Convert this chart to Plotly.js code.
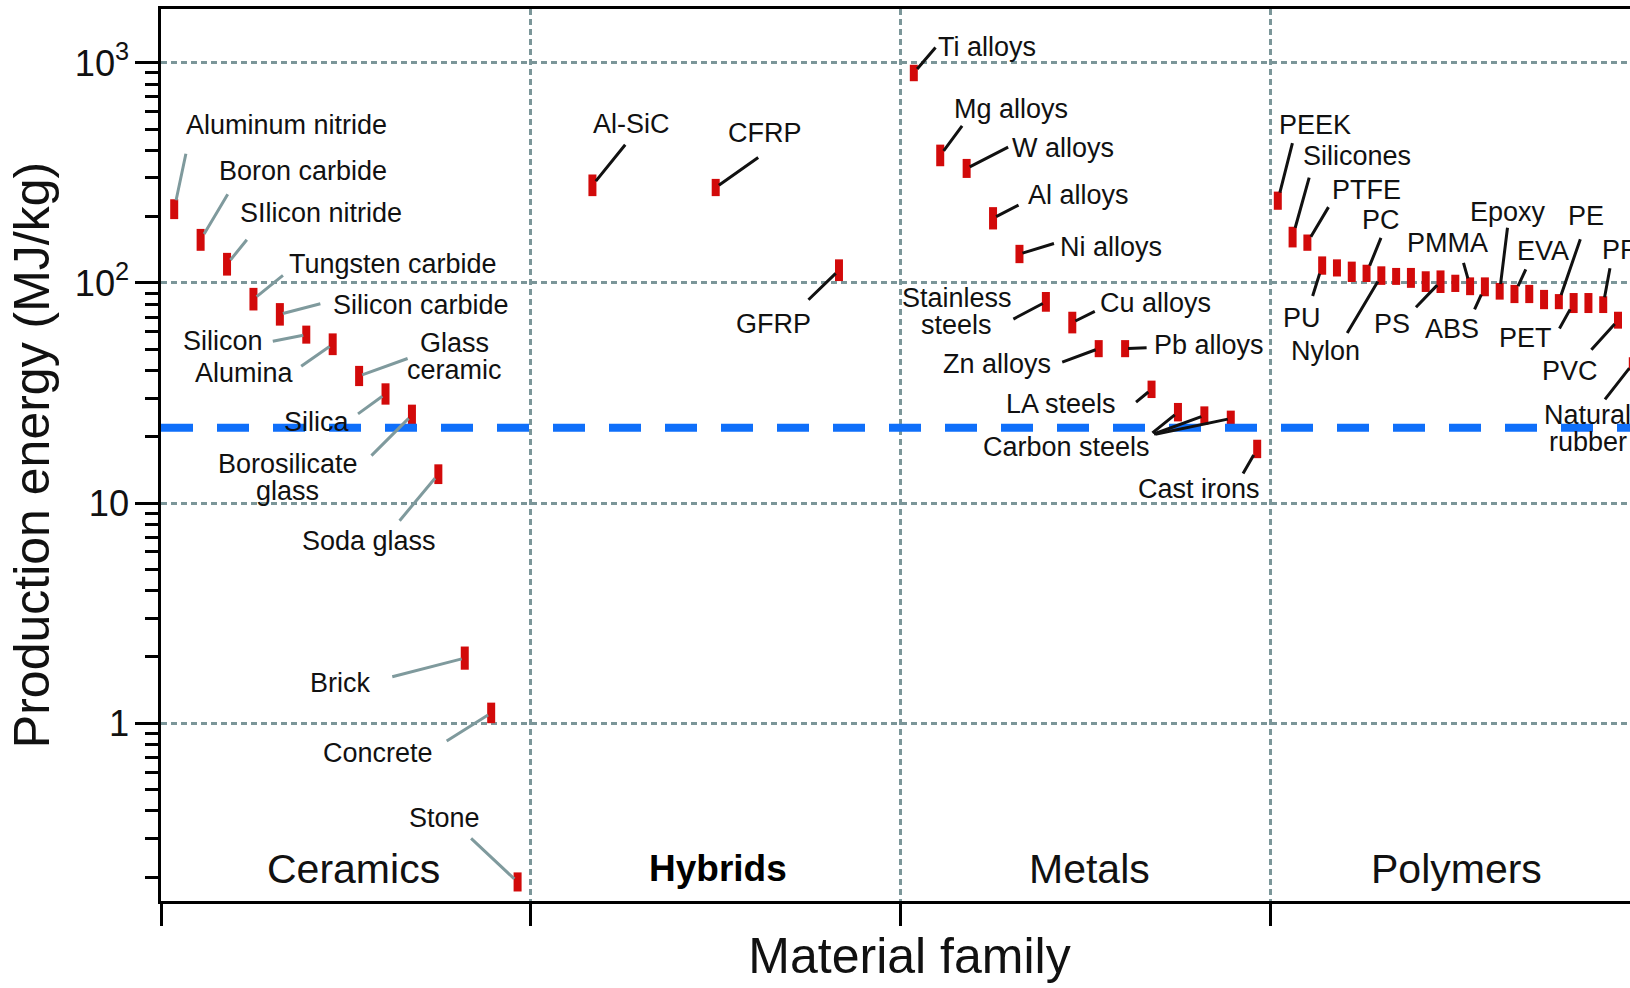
<!DOCTYPE html>
<html><head><meta charset="utf-8">
<script src="https://cdn.plot.ly/plotly-3.0.1.min.js"></script>
<style>html,body{margin:0;padding:0;overflow:hidden;background:#fff}#chart{width:1658px;height:988px}</style>
</head><body><div id="chart"></div>
<script>
// ---------------- data ----------------
const families = ['Ceramics', 'Hybrids', 'Metals', 'Polymers'];

const ceramicNames = ['Aluminum nitride','Boron carbide','SIlicon nitride','Tungsten carbide','Silicon carbide','Silicon','Alumina','Glass\nceramic','Silica','Borosilicate\nglass','Soda glass','Brick','Concrete','Stone'];
const ceramicLow  = [195, 140, 108, 75, 64, 53, 47, 34, 28, 22.5, 12.2, 1.75, 1.0, 0.172];
const ceramicHigh = [240, 176, 137, 95, 81, 64, 59, 42, 35, 28, 15, 2.23, 1.24, 0.21];

const hybridNames = ['Al-SiC', 'CFRP', 'GFRP'];
const hybridLow  = [248, 248, 102];
const hybridHigh = [311, 297, 128];

const metalNames = ['Ti alloys','Mg alloys','W alloys','Al alloys','Ni alloys','Stainless\nsteels','Cu alloys','Zn alloys','Pb alloys','LA steels','Carbon steels','Carbon steels','Carbon steels','Cast irons'];
const metalLow  = [825, 339, 300, 175, 123, 74, 59, 46, 46, 30, 23.5, 22.7, 22.3, 16];
const metalHigh = [980, 425, 366, 221, 149, 91, 74, 55, 55, 36, 28.5, 27.5, 26.3, 19.4];

const polymerNames = ['PEEK','Silicones','PTFE','PU','','','PC','Nylon','','','','PS','','PMMA','ABS','Epoxy','EVA','','','PE','PET','','PP','PVC','Natural\nrubber'];
const polymerLow  = [215, 145, 140, 109, 107, 101, 101, 98, 98, 95, 91, 90, 91, 88, 87, 84, 81, 81, 76, 76, 73, 73, 73, 62, 40];
const polymerHigh = [260, 180, 166, 132, 128, 125, 121, 119, 117, 117, 113, 114, 109, 106, 106, 100, 98, 98, 93, 89, 90, 90, 87, 74, 46];

const thresholdEnergy = 22;

// ---------------- styles / label placement (pixels) ----------------
const FONT = 'Liberation Sans, Arial, Helvetica, sans-serif';
const RED = '#d20a0a';
const GRID = '#7b9699';
const BAR_PX = 8, PX_PER_CAT = 369.8, PX_PER_DEC = 220;
const BAR_W = BAR_PX / PX_PER_CAT;
const LINE_GAP = 27;

const labelPlacement = {
  'Aluminum nitride': {t:[112,-84], l:[[12,-57]]},
  'Boron carbide': {t:[102,-69], l:[[28,-47]]},
  'SIlicon nitride': {t:[94,-51], l:[[21,-26]]},
  'Tungsten carbide': {t:[140,-35], l:[[31,-25]]},
  'Silicon carbide': {t:[141,-9], l:[[42,-11]]},
  'Silicon': {t:[-83,6], l:[[-35,7]]},
  'Alumina': {t:[-88,29], l:[[-33,23]]},
  'Glass\nceramic': {t:[95,-19], l:[[50,-18]]},
  'Silica': {t:[-69,28], l:[[-29,21]]},
  'Borosilicate\nglass': {t:[-124,62], l:[[-42,42]]},
  'Soda glass': {t:[-69,67], l:[[-40,48]]},
  'Brick': {t:[-125,25], l:[[-74,19]]},
  'Concrete': {t:[-113,40], l:[[-46,29]]},
  'Stone': {t:[-73,-64], l:[[-48,-45]]},
  'Al-SiC': {t:[39,-61], l:[[34,-42]]},
  'CFRP': {t:[49,-55], l:[[44,-31]]},
  'GFRP': {t:[-65,54], l:[[-32,31]]},
  'Ti alloys': {t:[73,-26], l:[[23,-27]]},
  'Mg alloys': {t:[71,-46], l:[[23,-31]]},
  'W alloys': {t:[96,-20], l:[[43,-22]]},
  'Al alloys': {t:[85,-23], l:[[27,-14]]},
  'Ni alloys': {t:[92,-7], l:[[36,-11]]},
  'Stainless\nsteels': {t:[-89,10], l:[[-34,18]]},
  'Cu alloys': {t:[83,-20], l:[[24,-12]]},
  'Zn alloys': {t:[-102,15], l:[[-38,14]]},
  'Pb alloys': {t:[84,-4], l:[[23,-1]]},
  'LA steels': {t:[-91,15], l:[[-17,14]]},
  'Carbon steels': {t:[-111,35], l:[[-27,22],[-52,19],[-77,16]]},
  'Cast irons': {t:[-58,40], l:[[-15,26]]},
  'PEEK': {t:[37,-76], l:[[15,-59]]},
  'Silicones': {t:[64,-81], l:[[17,-61]]},
  'PTFE': {t:[59,-53], l:[[22,-37]]},
  'PU': {t:[-20,52], l:[[-10,32]]},
  'PC': {t:[14,-53], l:[[15,-37]]},
  'Nylon': {t:[-56,75], l:[[-35,59]]},
  'PS': {t:[-49,42], l:[[-26,27]]},
  'PMMA': {t:[-23,-43], l:[[-7,-25]]},
  'ABS': {t:[-33,42], l:[[-11,24]]},
  'Epoxy': {t:[8,-79], l:[[8,-65]]},
  'EVA': {t:[29,-43], l:[[12,-26]]},
  'PE': {t:[27,-86], l:[[22,-64]]},
  'PET': {t:[-48,35], l:[[-15,27]]},
  'PP': {t:[17,-55], l:[[7,-38]]},
  'PVC': {t:[-48,51], l:[[-28,31]]},
  'Natural\nrubber': {t:[-45,65], l:[[-29,37]]}
};

const groups = [
  {names: ceramicNames, low: ceramicLow, high: ceramicHigh, lineColor: '#7f9a9d'},
  {names: hybridNames, low: hybridLow, high: hybridHigh, lineColor: '#111'},
  {names: metalNames, low: metalLow, high: metalHigh, lineColor: '#111'},
  {names: polymerNames, low: polymerLow, high: polymerHigh, lineColor: '#111'}
];
const familyShift = [8, 2, 4, 1];

const X_MAX = (1658 - 161) / PX_PER_CAT;
const traces = [];
const annotations = [];

groups.forEach((g, fi) => {
  const n = g.names.length;
  const xs = g.names.map((_, i) => fi + (i + 0.5) / n);
  traces.push({
    type: 'bar', x: xs, base: g.low, y: g.high.map((h, i) => h - g.low[i]),
    width: BAR_W, marker: {color: RED, line: {width: 0}},
    showlegend: false, hoverinfo: 'skip', name: families[fi]
  });
  const seen = {};
  g.names.forEach((name, i) => {
    if (!name) return;
    const p = labelPlacement[name];
    if (!p) return;
    const k = seen[name] = (seen[name] === undefined ? 0 : seen[name] + 1);
    const ymid = Math.log10(Math.sqrt(g.low[i] * g.high[i]));
    if (k === 0) {
      const lines = name.split('\n');
      lines.forEach((ln, j) => {
        annotations.push({
          x: xs[i], y: ymid, xref: 'x', yref: 'y', text: ln, showarrow: false,
          xshift: p.t[0], yshift: -p.t[1] + ((lines.length - 1) / 2 - j) * LINE_GAP,
          xanchor: 'center', yanchor: 'middle',
          font: {family: FONT, size: 27, color: '#111'}
        });
      });
    }
    // leader line: from near the label to the edge of the bar
    const [lx, ly] = p.l[Math.min(k, p.l.length - 1)];
    const len = Math.hypot(lx, ly);
    const ux = Math.abs(lx) / len, uy = Math.abs(ly) / len;
    const hh = PX_PER_DEC * Math.log10(g.high[i] / g.low[i]) / 2;
    const so = Math.min(ux > 1e-6 ? (BAR_PX / 2) / ux : 1e9, uy > 1e-6 ? hh / uy : 1e9);
    annotations.push({
      x: xs[i], y: ymid, xref: 'x', yref: 'y', text: '', showarrow: true,
      arrowhead: 0, arrowwidth: 3, arrowcolor: g.lineColor,
      ax: lx, ay: ly, axref: 'pixel', ayref: 'pixel', standoff: Math.max(0, so - 1)
    });
  });
  annotations.push({
    x: fi + 0.5, y: 0.036, xref: 'x', yref: 'paper', xshift: familyShift[fi],
    text: families[fi], showarrow: false, xanchor: 'center', yanchor: 'middle',
    font: fi === 1 ? {family: FONT, size: 37, color: '#000', weight: 700}
                   : {family: FONT, size: 41, color: '#111'}
  });
});

traces.push({
  type: 'scatter', mode: 'lines', x: [0, X_MAX], y: [thresholdEnergy, thresholdEnergy],
  line: {color: '#0f6ffa', width: 8, dash: '32px,24px'}, showlegend: false, hoverinfo: 'skip'
});

const layout = {
  width: 1658, height: 988,
  margin: {l: 161, r: 0, t: 9, b: 87},
  paper_bgcolor: '#fff', plot_bgcolor: '#fff',
  font: {family: FONT, color: '#111'},
  barmode: 'overlay', hovermode: false, showlegend: false,
  xaxis: {
    range: [0, X_MAX], tickmode: 'array', tickvals: [0, 1, 2, 3, 4], showticklabels: false,
    ticks: 'outside', ticklen: 22, tickwidth: 3, tickcolor: '#000',
    showline: true, linewidth: 3, linecolor: '#000', mirror: true,
    showgrid: true, gridcolor: GRID, gridwidth: 3, griddash: '6px,4px', zeroline: false,
    title: {text: 'Material family', font: {family: FONT, size: 50, color: '#111'}, standoff: 13}
  },
  yaxis: {
    type: 'log', range: [(723.3 - 901) / PX_PER_DEC, (723.3 - 9.5) / PX_PER_DEC],
    tickmode: 'linear', tick0: 0, dtick: 1, exponentformat: 'power',
    tickfont: {family: FONT, size: 29, color: '#111'},
    ticks: 'outside', ticklen: 23, tickwidth: 3, tickcolor: '#000',
    minor: {ticks: 'outside', ticklen: 13, tickwidth: 3, tickcolor: '#000', dtick: 'D1', showgrid: false},
    showline: true, linewidth: 3, linecolor: '#000',
    showgrid: true, gridcolor: GRID, gridwidth: 3, griddash: '6px,4px', zeroline: false,
    title: {text: 'Production energy (MJ/kg)', font: {family: FONT, size: 50, color: '#111'}, standoff: 10}
  },
  annotations: annotations
};

Plotly.newPlot('chart', traces, layout, {displayModeBar: false, staticPlot: true});
</script>
</body></html>
